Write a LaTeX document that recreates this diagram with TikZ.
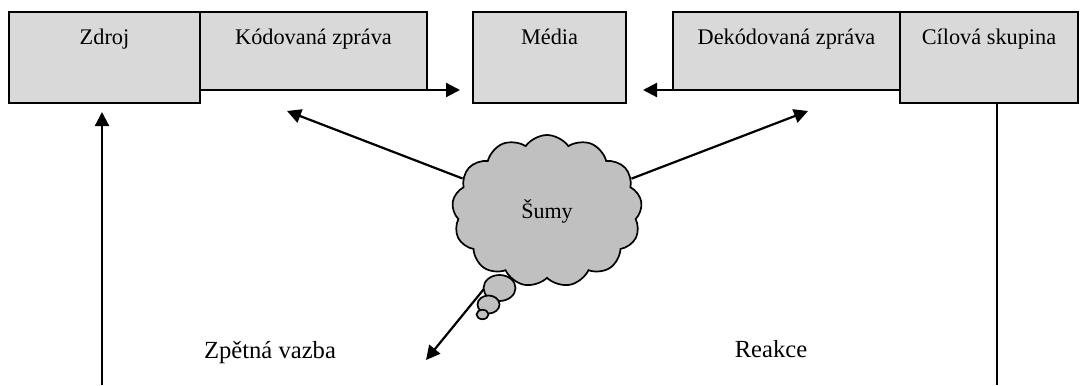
\documentclass[tikz,border=0pt]{standalone}
\usepackage{fontspec}
\setmainfont{Liberation Serif}
\usetikzlibrary{shapes.symbols,shapes.geometric,arrows.meta,calc}

\definecolor{boxgray}{RGB}{217,217,217}
\definecolor{cloudgray}{RGB}{192,192,192}

\begin{document}
\begin{tikzpicture}[x=0.5pt,y=-0.5pt,
  box/.style={draw, line width=0.85pt, fill=boxgray, outer sep=0pt, inner sep=0pt, anchor=north west},
  lbl/.style={anchor=base, inner sep=0pt, font=\fontsize{11.15}{13}\selectfont},
  sidelbl/.style={anchor=base, inner sep=0pt, font=\fontsize{12.3}{14}\selectfont},
  arr/.style={line width=1.1pt, -{Triangle[length=7pt,width=7pt]}},
  link/.style={line width=0.85pt},
  noisecloud/.style={cloud, cloud puffs=13, cloud puff arc=110, aspect=1.25, draw, line width=0.85pt,
    fill=cloudgray, minimum width=95pt, minimum height=76pt, inner sep=0pt,
    font=\fontsize{11}{12}\selectfont},
  bubble/.style={ellipse, draw, line width=0.85pt, fill=cloudgray, inner sep=0pt, outer sep=0pt}
]
\useasboundingbox (0,0) rectangle (1080,385);

% top row of boxes
\node[box, minimum width=95.5pt, minimum height=45.5pt] (zdroj) at (9,12) {};
\node[box, minimum width=113.5pt, minimum height=39pt] (kod) at (200,12) {};
\node[box, minimum width=76.5pt, minimum height=45.5pt] (media) at (473,12) {};
\node[box, minimum width=113.5pt, minimum height=39pt] (dek) at (673,12) {};
\node[box, minimum width=89pt, minimum height=45.5pt] (cil) at (900,12) {};

\node[lbl] (tzdroj) at ($(zdroj.north)+(0,33)$) {Zdroj};
\node[lbl] (tkod) at ($(kod.north)+(0,33)$) {Kódovaná zpráva};
\node[lbl] (tmedia) at ($(media.north)+(0,33)$) {Média};
\node[lbl] (tdek) at ($(dek.north)+(0,33)$) {Dekódovaná zpráva};
\node[lbl] (tcil) at ($(cil.north)+(0,33)$) {Cílová skupina};

% message flow into the media
\coordinate (inL) at (460,90);
\coordinate (inR) at (643,90);
\draw[arr] (kod.south west) -- (inL);
\draw[arr] (dek.south east) -- (inR);

% noise
\node[noisecloud] (noise) at (547,211) {Šumy};
\coordinate (tipL) at (287,111);
\coordinate (tipR) at (808,111);
\coordinate (tipB) at (426,360);
\draw[arr] (noise) -- (tipL);
\draw[arr] (noise) -- (tipR);

\node[bubble, minimum width=16pt, minimum height=13pt] (b1) at (499.5,288) {};
\node[bubble, minimum width=11pt, minimum height=9pt] (b2) at (488.5,304.5) {};
\node[bubble, minimum width=6pt, minimum height=4.7pt] (b3) at (482.5,314.5) {};
\draw[arr] (b1.185) -- (tipB);

% feedback and reaction
\coordinate (fbL) at (102,385);
\coordinate (fbR) at (997,385);
\draw[arr, shorten >=4.5pt] (fbL) -- (fbL |- zdroj.south);
\draw[link] (cil.south -| fbR) -- (fbR);

\node[sidelbl] (tzv) at (270,358) {Zpětná vazba};
\node[sidelbl] (treak) at (771,357) {Reakce};
\end{tikzpicture}
\end{document}
